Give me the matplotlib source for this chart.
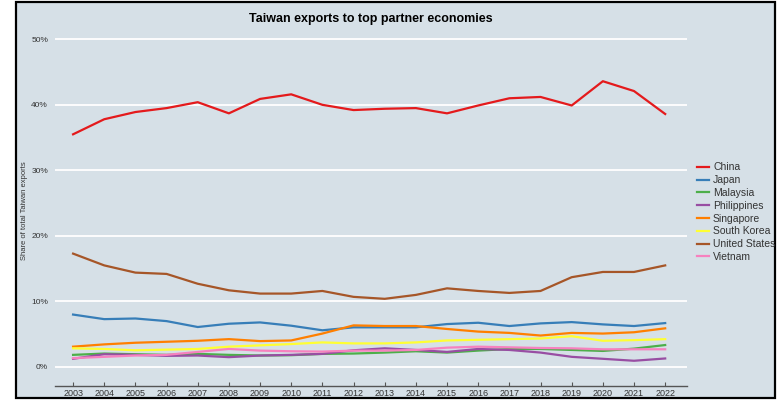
import matplotlib
matplotlib.use("Agg")
import matplotlib.pyplot as plt
from matplotlib.patches import Rectangle

plt.rcParams['font.family'] = ['Liberation Sans', 'DejaVu Sans']

years = list(range(2003, 2023))

china = [35.5, 37.8, 38.9, 39.5, 40.4, 38.7, 40.9, 41.6, 40.0, 39.2,
         39.4, 39.5, 38.7, 39.9, 41.0, 41.2, 39.9, 43.6, 42.1, 38.6]
japan = [8.0, 7.3, 7.4, 7.0, 6.1, 6.6, 6.8, 6.3, 5.6, 6.05,
         6.05, 6.05, 6.55, 6.75, 6.25, 6.65, 6.85, 6.5, 6.25, 6.7]
malaysia = [1.85, 2.05, 1.95, 1.85, 2.0, 1.85, 1.75, 1.8, 2.0, 2.05,
            2.2, 2.4, 2.2, 2.5, 2.75, 2.75, 2.6, 2.45, 2.8, 3.35]
philippines = [1.25, 1.95, 1.85, 1.7, 1.75, 1.5, 1.75, 1.85, 2.0, 2.55,
               2.85, 2.6, 2.3, 2.75, 2.6, 2.2, 1.55, 1.25, 0.95, 1.3]
singapore = [3.1, 3.45, 3.7, 3.85, 4.0, 4.25, 3.95, 4.05, 5.1, 6.35,
             6.25, 6.25, 5.8, 5.4, 5.2, 4.8, 5.2, 5.1, 5.3, 5.9]
south_korea = [2.85, 2.75, 2.55, 2.65, 2.75, 3.1, 3.3, 3.5, 3.75, 3.6,
               3.6, 3.75, 4.05, 4.15, 4.25, 4.35, 4.7, 4.0, 4.1, 4.25]
united_states = [17.3, 15.5, 14.4, 14.2, 12.7, 11.7, 11.2, 11.2, 11.6, 10.7,
                 10.4, 11.0, 12.0, 11.6, 11.3, 11.6, 13.7, 14.5, 14.5, 15.5]
vietnam = [1.35, 1.55, 1.75, 1.85, 2.3, 2.75, 2.5, 2.4, 2.35, 2.5,
           2.5, 2.6, 2.95, 3.1, 3.0, 2.9, 2.85, 2.7, 2.7, 2.7]

series = [
    ("China", china, "#e41a1c"),
    ("Japan", japan, "#377eb8"),
    ("Malaysia", malaysia, "#4daf4a"),
    ("Philippines", philippines, "#984ea3"),
    ("Singapore", singapore, "#ff7f00"),
    ("South Korea", south_korea, "#ffff33"),
    ("United States", united_states, "#a65628"),
    ("Vietnam", vietnam, "#f781bf"),
]

yticks = [0, 10, 20, 30, 40, 50]
bg = "#d6e0e7"

fig = plt.figure(figsize=(7.8, 4), dpi=100, facecolor="white")
# outer panel with black frame, kept behind the axes
fig.patches.append(Rectangle((16 / 780, 2 / 400), 759 / 780, 396 / 400,
                             transform=fig.transFigure, facecolor=bg,
                             edgecolor="black", linewidth=1.6, zorder=-5))

ax = fig.add_axes([55 / 780, 14 / 400, 632 / 780, 350 / 400])
ax.set_facecolor("none")

for name, vals, col in series:
    ax.plot(years, vals, color=col, linewidth=1.6, label=name)

ax.set_xlim(2002.42, 2022.7)
ax.set_ylim(-2.9, 50.5)
ax.set_yticks(yticks)
ax.set_yticklabels([f"{t}%" for t in yticks])
ax.set_xticks(years)
ax.set_xticklabels([str(y) for y in years])
ax.grid(axis="y", color="white", linewidth=1.3)
ax.set_axisbelow(True)

for s in ["top", "right", "left"]:
    ax.spines[s].set_visible(False)
ax.spines["bottom"].set_color("#555555")
ax.spines["bottom"].set_linewidth(1.0)
ax.tick_params(axis="x", direction="in", length=3, color="#555555",
               labelsize=6.5, labelcolor="#333333", pad=2)
ax.tick_params(axis="y", length=0, labelsize=6, labelcolor="#333333", pad=5)

ax.set_ylabel("Share of total Taiwan exports", fontsize=5.5, color="#333333")
ax.yaxis.set_label_coords(-0.042, 0.5)
fig.text(371 / 780, 1 - 19 / 400, "Taiwan exports to top partner economies",
         ha="center", va="center", fontsize=9, fontweight="bold")

ax.legend(loc="upper left", bbox_to_anchor=(688 / 780, 1 - 153 / 400),
          bbox_transform=fig.transFigure, frameon=False, fontsize=7.5,
          handlelength=1.1, handletextpad=0.4, labelspacing=0.27,
          labelcolor="#333333")

fig.savefig("out.png", dpi=100, facecolor="white")
